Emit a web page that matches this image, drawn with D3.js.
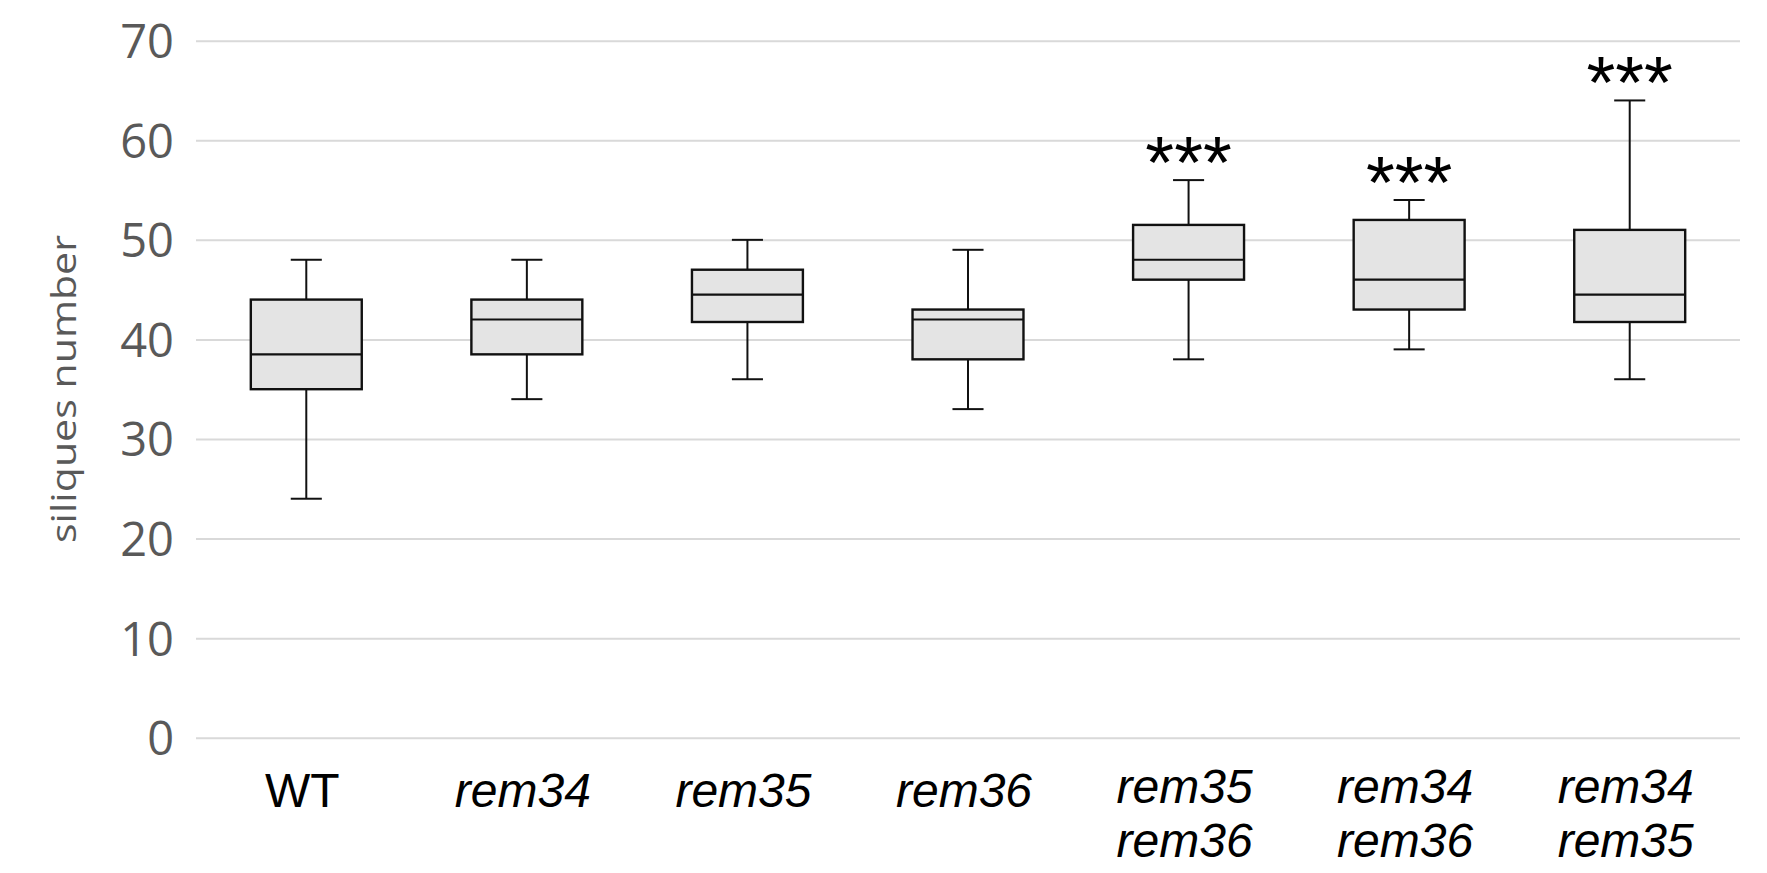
<!DOCTYPE html>
<html>
<head>
<meta charset="utf-8">
<script src="https://cdn.jsdelivr.net/npm/d3@7"></script>
<style>
  html, body { margin: 0; padding: 0; background: #ffffff; }
  svg { display: block; }
</style>
</head>
<body>
<svg id="chart" width="1767" height="873"></svg>
<script>
// ---- data ----
const categories   = ["WT", "rem34", "rem35", "rem36", "rem35 rem36", "rem34 rem36", "rem34 rem35"];
const italicLabels = [false, true, true, true, true, true, true];
const whiskerLow   = [24, 34, 36, 33, 38, 39, 36];
const quartile1    = [35, 38.5, 41.75, 38, 46, 43, 41.75];
const medians      = [38.5, 42, 44.5, 42, 48, 46, 44.5];
const quartile3    = [44, 44, 47, 43, 51.5, 52, 51];
const whiskerHigh  = [48, 48, 50, 49, 56, 54, 64];
const significance = ["", "", "", "", "***", "***", "***"];
const yTicks       = [0, 10, 20, 30, 40, 50, 60, 70];
const yTitle       = "siliques number";

// ---- layout ----
const W = 1767, H = 873;
const plot = { left: 196, right: 1740, top: 40.7, bottom: 737.7 };

const svg = d3.select("#chart");
svg.append("rect").attr("width", W).attr("height", H).attr("fill", "#ffffff");

const x = d3.scaleBand().domain(categories).range([plot.left, plot.right]).padding(0);
const y = d3.scaleLinear().domain([0, 70]).range([plot.bottom, plot.top]);

// gridlines + y tick labels via axis
const yAxis = d3.axisLeft(y)
  .tickValues(yTicks)
  .tickSize(-(plot.right - plot.left))
  .tickPadding(22)
  .tickFormat(d3.format("d"));

const gy = svg.append("g")
  .attr("transform", `translate(${plot.left},0)`)
  .call(yAxis);
gy.select(".domain").remove();
gy.selectAll(".tick line").attr("stroke", "#d9d9d9").attr("stroke-width", 2);
gy.selectAll(".tick text")
  .attr("fill", "#595959")
  .attr("font-family", "'Open Sans', 'Noto Sans', sans-serif")
  .attr("font-size", 47)
  .attr("dy", "0.36em");

// y axis title
svg.append("text")
  .attr("transform", `translate(75.5,389) rotate(-90)`)
  .attr("text-anchor", "middle")
  .attr("fill", "#595959")
  .attr("font-family", "'Open Sans', 'Noto Sans', sans-serif")
  .attr("font-size", 34)
  .attr("textLength", 308)
  .attr("lengthAdjust", "spacingAndGlyphs")
  .text(yTitle);

// box plots
const rows = categories.map((c, i) => ({
  cat: c, lo: whiskerLow[i], q1: quartile1[i], med: medians[i],
  q3: quartile3[i], hi: whiskerHigh[i], sig: significance[i], italic: italicLabels[i]
}));

const boxW = x.bandwidth() * 0.503;
const capW = boxW * 0.28;

const g = svg.append("g");
const box = g.selectAll("g.box").data(rows).join("g").attr("class", "box")
  .attr("transform", d => `translate(${x(d.cat) + x.bandwidth() / 2},0)`);

// whiskers
box.append("line")
  .attr("x1", 0).attr("x2", 0)
  .attr("y1", d => y(d.hi)).attr("y2", d => y(d.q3))
  .attr("stroke", "#111").attr("stroke-width", 2);
box.append("line")
  .attr("x1", 0).attr("x2", 0)
  .attr("y1", d => y(d.q1)).attr("y2", d => y(d.lo))
  .attr("stroke", "#111").attr("stroke-width", 2);
// caps
box.append("line")
  .attr("x1", -capW / 2).attr("x2", capW / 2)
  .attr("y1", d => y(d.hi)).attr("y2", d => y(d.hi))
  .attr("stroke", "#111").attr("stroke-width", 2);
box.append("line")
  .attr("x1", -capW / 2).attr("x2", capW / 2)
  .attr("y1", d => y(d.lo)).attr("y2", d => y(d.lo))
  .attr("stroke", "#111").attr("stroke-width", 2);
// box
box.append("rect")
  .attr("x", -boxW / 2).attr("width", boxW)
  .attr("y", d => y(d.q3)).attr("height", d => y(d.q1) - y(d.q3))
  .attr("fill", "#e4e4e4").attr("stroke", "#111").attr("stroke-width", 2.4);
// median
box.append("line")
  .attr("x1", -boxW / 2).attr("x2", boxW / 2)
  .attr("y1", d => y(d.med)).attr("y2", d => y(d.med))
  .attr("stroke", "#111").attr("stroke-width", 2.2);

// significance stars
box.filter(d => d.sig).append("text")
  .attr("x", 0)
  .attr("y", d => y(d.hi) + 8)
  .attr("text-anchor", "middle")
  .attr("font-family", "'Liberation Sans', Arial, sans-serif")
  .attr("font-size", 74)
  .attr("fill", "#000")
  .text(d => d.sig);

// category labels
const labels = svg.append("g").selectAll("text").data(rows).join("text")
  .attr("x", d => x(d.cat) + x.bandwidth() / 2)
  .attr("text-anchor", "middle")
  .attr("font-family", "'Liberation Sans', Arial, sans-serif")
  .attr("font-size", 48)
  .attr("font-style", d => d.italic ? "italic" : "normal")
  .attr("fill", "#000");

labels.each(function(d) {
  const lines = d.cat.split(" ");
  const t = d3.select(this);
  const base = lines.length > 1 ? 802.5 : 806.5;
  lines.forEach((ln, k) => {
    t.append("tspan")
      .attr("x", x(d.cat) + x.bandwidth() / 2 - 4)
      .attr("y", base + k * 54.5)
      .text(ln);
  });
});
</script>
</body>
</html>
